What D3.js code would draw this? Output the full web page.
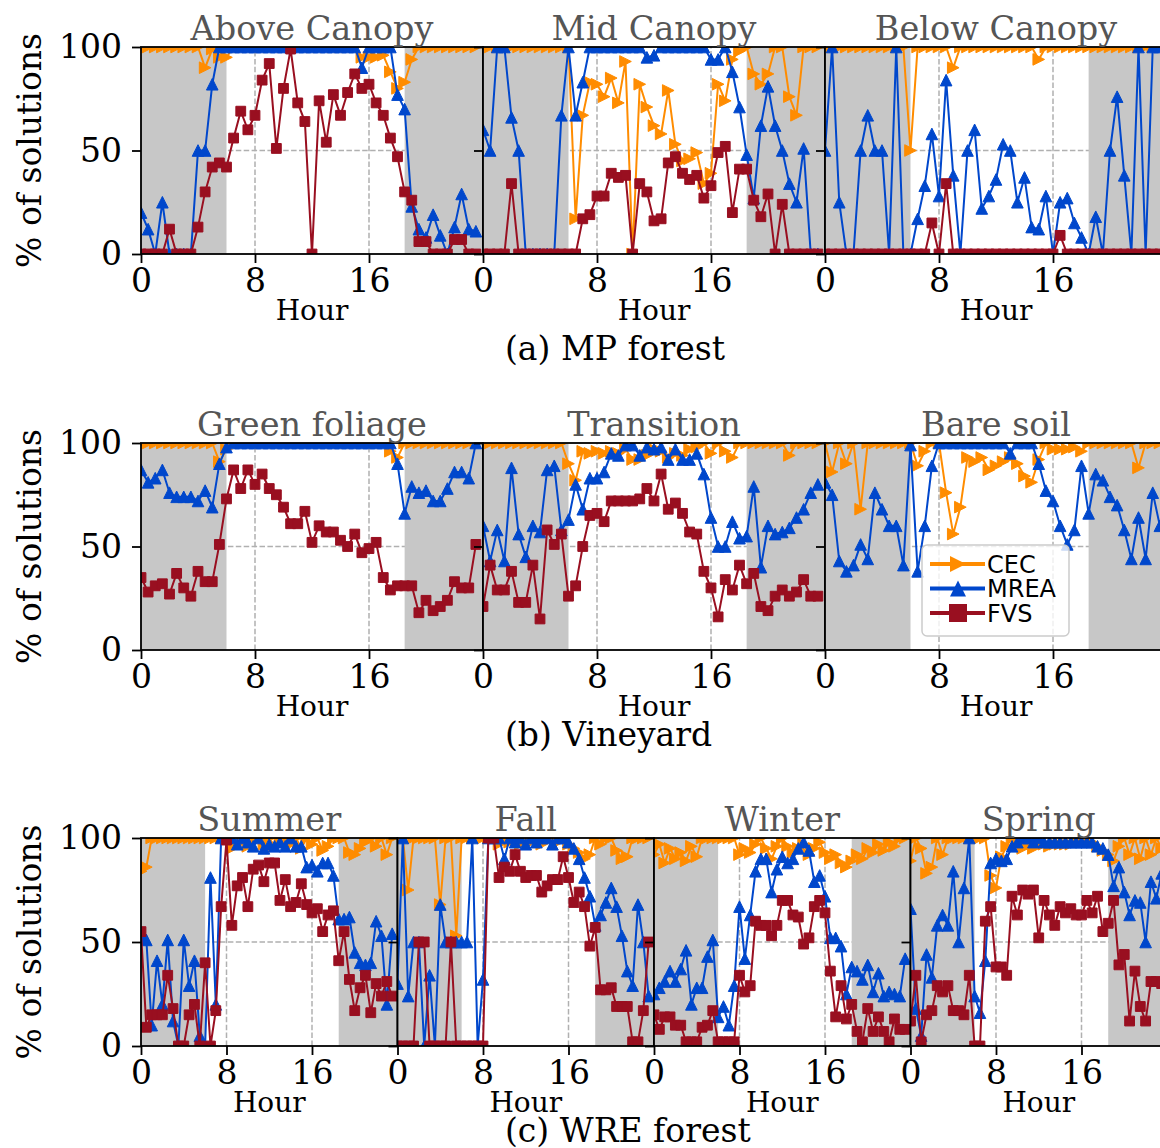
<!DOCTYPE html>
<html>
<head>
<meta charset="utf-8">
<script src="https://cdn.jsdelivr.net/npm/d3@7/dist/d3.min.js"></script>
<style>
body { margin: 0; background: #fff; }
svg { display: block; }
</style>
</head>
<body>
<div id="chart"></div>
<script>
// half-hour samples
var hours = [0,0.5,1,1.5,2,2.5,3,3.5,4,4.5,5,5.5,6,6.5,7,7.5,8,8.5,9,9.5,10,10.5,11,11.5,
	12,12.5,13,13.5,14,14.5,15,15.5,16,16.5,17,17.5,18,18.5,19,19.5,20,20.5,21,21.5,22,22.5,23,23.5]
var xTicks = [0,8,16]
var yTicks = [0,50,100]
var nightSpans = [[0,6],[18.5,24]]
var seriesNames = ['CEC','MREA','FVS']
var colors = ['#ff8c00','#0047cc','#990f20']

var rowTitles = [['Above Canopy','Mid Canopy','Below Canopy'],
	['Green foliage','Transition','Bare soil'],
	['Summer','Fall','Winter','Spring']]
var captions = ['(a) MP forest','(b) Vineyard','(c) WRE forest']

// (a) MP forest
var aboveCEC = [100,100,100,100,100,100,100,100, 100,90,99,95,95,100,100,100, 100,100,100,100,100,100,100,100,
	100,100,100,100,100,100,100,95, 95,95,96,88,80,83,94,100, 100,100,100,100,100,100,100,100]
var aboveMREA = [20,12,0,25,0,0,0,0, 50,50,82,100,100,100,100,100, 100,100,100,100,100,100,100,100,
	100,100,100,100,100,100,100,90, 100,100,100,100,77,70,23,12, 8,19,9,0,13,29,12,11]
var aboveFVS = [0,0,0,0,12,0,0,0, 13,30,42,44,42,56,69,60, 67,84,92,51,80,99,73,64,
	0,74,54,77,67,78,87,80, 82,73,67,56,47,30,26,6, 6,0,0,0,7,7,0,0]

var midCEC = [100,100,100,100,100,100,100,100, 100,100,100,100,100,17,67,83, 82,76,85,73,93,0,82,71,
	62,58,79,53,45,46,49,34, 39,82,74,94,98,100,87,82, 87,100,100,76,67,100,100,100]
var midMREA = [60,50,100,100,66,50,0,0, 0,0,0,67,100,67,83,100, 100,100,100,100,100,100,100,95,
	96,100,100,100,100,100,100,100, 94,94,100,88,71,48,27,62, 81,62,50,34,25,51,0,0]
var midFVS = [0,0,0,0,34,0,0,0, 0,0,0,0,0,0,17,19, 28,28,39,37,38,0,34,30,
	16,17,44,47,39,36,38,27, 33,49,52,20,41,41,26,18, 29,0,24,0,0,0,0,0]

var belowCEC = [100,100,100,100,100,100,100,100, 100,100,100,100,50,100,100,100, 100,100,90,100,100,100,100,100,
	100,100,100,100,100,100,94,100, 100,100,100,100,100,100,100,100, 100,100,100,100,100,100,100,100]
var belowMREA = [50,100,25,0,0,50,67,50, 50,0,100,0,0,17,33,58, 28,84,38,0,50,60,22,28,
	36,53,50,25,37,13,12,28, 0,25,27,15,8,0,18,0, 50,76,38,0,100,0,100,100]
var belowFVS = [0,0,0,0,0,0,0,0, 0,0,0,0,0,0,0,15, 0,34,0,0,0,0,0,0,
	0,0,0,0,0,0,0,0, 0,9,0,0,0,0,0,0, 0,0,0,0,0,0,0,0]

// (b) Vineyard
var greenCEC = [100,100,100,100,100,100,100,100, 100,100,100,91,97,100,100,100, 100,100,100,100,100,100,100,100,
	100,100,100,100,100,100,100,100, 100,100,100,96,93,100,100,100, 100,100,100,100,100,100,100,100]
var greenMREA = [87,81,83,87,76,74,74,74, 72,77,69,90,98,100,100,100, 100,100,100,100,100,100,100,100,
	100,100,100,100,100,100,100,100, 100,100,100,100,90,66,79,76, 77,72,72,78,86,86,83,100]
var greenFVS = [35,28,31,32,27,37,30,26, 38,33,33,51,73,87,78,87, 80,85,78,75,69,61,61,67,
	52,60,57,57,53,50,56,47, 49,52,35,29,31,31,31,18, 24,19,21,24,33,30,30,51]

var transCEC = [100,100,100,100,100,100,100,100, 100,100,100,100,90,82,96,95, 96,95,96,95,97,92,92,94,
	97,96,93,95,94,97,98,100, 95,100,96,93,100,100,100,100, 100,100,100,94,100,100,100,100]
var transMREA = [60,43,58,43,88,56,45,60, 57,87,89,58,63,80,68,83, 83,86,95,94,99,99,94,98,
	97,98,92,97,92,92,95,85, 64,50,50,62,54,55,79,40, 60,56,57,59,64,68,76,80]
var transFVS = [21,41,29,29,38,23,23,41, 15,58,51,56,26,31,50,65, 66,62,72,72,72,72,73,78,
	72,85,68,71,66,57,56,38, 30,16,34,29,41,32,37,21, 19,26,29,26,28,34,26,26]

var bareCEC = [100,86,100,90,100,68,100,100, 100,100,100,100,100,89,96,100, 100,76,56,69,93,91,93,87,
	89,91,93,90,84,81,92,100, 97,97,97,98,96,100,100,100, 100,100,100,100,88,100,100,100]
var bareMREA = [81,75,43,38,41,51,44,76, 68,60,60,41,99,38,60,89, 100,100,100,100,100,100,100,100,
	100,100,95,100,100,100,90,77, 72,60,51,58,89,66,85,82, 74,70,58,44,64,44,76,60]
var bareFVS = []

// (c) WRE forest
var summerCEC = [84,86,100,100,100,100,100,100, 100,100,100,100,100,100,100,100, 100,95,97,100,96,98,100,97,
	100,96,98,100,97,100,95,100, 97,100,94,96,100,100,100,93, 92,95,98,100,96,100,92,100]
var summerMREA = [53,51,10,41,20,51,12,0, 51,29,41,5,0,81,20,100, 100,100,97,100,98,96,100,95,
	97,96,98,96,100,96,96,86, 87,84,88,88,82,61,61,62, 45,40,39,40,60,53,20,54]
var summerFVS = [55,9,15,15,15,34,18,0, 0,15,20,0,40,0,17,67, 99,58,77,81,67,85,87,79,
	88,88,70,80,67,69,78,68, 64,66,55,63,65,41,55,32, 17,28,34,16,30,24,31,24]

var fallCEC = [100,100,75,100,100,100,100,100, 68,100,100,53,100,100,100,100, 100,100,100,97,100,98,100,97,
	100,98,100,97,100,100,98,100, 97,95,93,90,92,100,97,100, 100,94,90,91,100,100,100,100]
var fallMREA = [30,100,24,50,50,0,34,0, 68,50,50,50,50,50,100,0, 32,100,100,100,90,100,98,100,
	97,100,98,100,100,97,100,100, 98,95,90,81,72,58,63,69, 76,67,53,36,29,68,50,24]
var fallFVS = [0,0,0,0,50,50,0,0, 0,0,50,0,0,0,0,0, 0,100,100,81,86,84,92,84,
	81,82,82,74,77,80,80,91, 81,69,74,67,48,57,27,27, 28,19,19,19,2,2,17,50]

var winterCEC = [92,97,88,95,90,93,89,96, 91,100,100,100,100,100,100,100, 92,95,93,97,100,95,90,96,
	100,96,93,95,97,92,95,98, 93,90,92,88,86,89,92,90, 95,93,97,94,98,96,100,100]
var winterMREA = [25,28,31,36,31,37,46,20, 28,28,43,51,14,19,10,29, 67,42,63,84,90,90,74,85,
	91,88,90,95,98,94,79,82, 72,52,52,48,25,38,36,32, 39,26,35,24,26,25,24,42]
var winterFVS = [15,8,14,14,10,10,2,2, 2,9,10,17,2,2,2,2, 34,26,29,60,58,58,53,58,
	70,70,63,62,49,52,67,70, 64,36,14,29,13,20,7,2, 18,7,14,7,2,13,8,8]

var springCEC = [89,100,95,83,86,100,92,100, 100,100,100,100,100,100,100,82, 76,91,96,100,97,95,97,95,
	97,97,96,97,97,97,97,98, 98,98,98,96,94,92,89,96, 100,92,100,90,100,92,100,95]
var springMREA = [66,18,5,44,33,58,63,58, 84,50,76,100,24,16,41,88, 90,89,90,96,98,100,100,98,
	100,98,98,98,98,98,98,98, 98,98,98,96,95,92,77,86, 74,63,70,69,50,79,71,83]
var springFVS = [12,34,2,15,17,29,26,29, 17,17,15,34,0,0,60,67, 38,38,34,72,63,75,73,75,
	52,70,63,58,67,64,66,63, 63,70,64,72,55,59,70,39, 44,12,36,19,12,31,31,30]

var rowSeries = [
	[[aboveCEC,aboveMREA,aboveFVS],[midCEC,midMREA,midFVS],[belowCEC,belowMREA,belowFVS]],
	[[greenCEC,greenMREA,greenFVS],[transCEC,transMREA,transFVS],[bareCEC,bareMREA,bareFVS]],
	[[summerCEC,summerMREA,summerFVS],[fallCEC,fallMREA,fallFVS],[winterCEC,winterMREA,winterFVS],[springCEC,springMREA,springFVS]]
]

// layout
var rowLayout = [
	{top:47, height:207, left:141, width:342, caption:360},
	{top:443, height:207, left:141, width:342, caption:746},
	{top:838, height:208, left:141, width:256.5, caption:1142}
]
var legendPanel = [1,2]

var markers = [
	function(s){ return 'M'+s+',0L'+(-s)+','+(-s)+'L'+(-s)+','+s+'Z' },
	function(s){ return 'M0,'+(-s)+'L'+s+','+s+'L'+(-s)+','+s+'Z' },
	function(s){ return 'M'+(-s)+','+(-s)+'h'+(2*s)+'v'+(2*s)+'h'+(-2*s)+'Z' }
]
var markerSize = [5.8,5.8,4.9]
var legendMarkerSize = [8,8,9]

var serif = '"DejaVu Serif", serif'
var svg = d3.select('#chart').append('svg')
	.attr('width',1160)
	.attr('height',1148)
	.style('font-family',serif)
var defs = svg.append('defs')

rowSeries.forEach(function(row, r){
	var L = rowLayout[r]
	var y = d3.scaleLinear().domain([0,100]).range([L.top+L.height, L.top])

	row.forEach(function(series, c){
		var x0 = L.left + c*L.width
		var x = d3.scaleLinear().domain([0,24]).range([x0, x0+L.width])
		var id = 'clip'+r+'_'+c
		defs.append('clipPath').attr('id',id).append('rect')
			.attr('x',x(0)).attr('y',y(100))
			.attr('width',x(24)-x(0)).attr('height',y(0)-y(100))

		var g = svg.append('g')
		var plot = g.append('g').attr('clip-path','url(#'+id+')')

		// grid
		plot.selectAll('line.vg').data([8,16]).enter().append('line')
			.attr('x1',d=>x(d)).attr('x2',d=>x(d))
			.attr('y1',y(0)).attr('y2',y(100))
			.attr('stroke','#b0b0b0').attr('stroke-width',1.5).attr('stroke-dasharray','5.5,2.4')
		plot.append('line')
			.attr('x1',x(0)).attr('x2',x(24))
			.attr('y1',y(50)).attr('y2',y(50))
			.attr('stroke','#b0b0b0').attr('stroke-width',1.5).attr('stroke-dasharray','5.5,2.4')

		// night
		plot.selectAll('rect.night').data(nightSpans).enter().append('rect')
			.attr('x',d=>x(d[0])).attr('width',d=>x(d[1])-x(d[0]))
			.attr('y',y(100)).attr('height',y(0)-y(100))
			.attr('fill','#c7c7c7')

		var line = d3.line().x((d,i)=>x(hours[i])).y(d=>y(d))
		series.forEach(function(vals, k){
			if(!vals.length) return
			plot.append('path').datum(vals)
				.attr('d',line)
				.attr('fill','none')
				.attr('stroke',colors[k])
				.attr('stroke-width',2)
			plot.selectAll('path.m'+k).data(vals).enter().append('path')
				.attr('class','m'+k)
				.attr('transform',(d,i)=>'translate('+x(hours[i])+','+y(d)+')')
				.attr('d',markers[k](markerSize[k]))
				.attr('fill',colors[k])
				.attr('stroke',colors[k])
				.attr('stroke-width',1)
		})

		// axes
		var xa = g.append('g').attr('transform','translate(0,'+y(0)+')')
			.call(d3.axisBottom(x).tickValues(xTicks).tickSize(9).tickPadding(6).tickFormat(d3.format('d')))
		var ya = g.append('g').attr('transform','translate('+x0+',0)')
			.call(d3.axisLeft(y).tickValues(yTicks).tickSize(9).tickPadding(10)
				.tickFormat(c==0 ? d3.format('d') : function(){ return '' }))
		;[xa,ya].forEach(function(a){
			a.select('.domain').remove()
			a.selectAll('line').attr('stroke','#000').attr('stroke-width',1.8)
			a.selectAll('text').attr('fill','#000').style('font-family',serif).style('font-size','33px')
		})

		g.append('rect')
			.attr('x',x(0)).attr('y',y(100))
			.attr('width',x(24)-x(0)).attr('height',y(0)-y(100))
			.attr('fill','none').attr('stroke','#000').attr('stroke-width',1.8)

		g.append('text')
			.attr('x',(x(0)+x(24))/2).attr('y',L.top-7)
			.attr('text-anchor','middle')
			.style('font-size','33.5px').attr('fill','#555')
			.text(rowTitles[r][c])

		g.append('text')
			.attr('x',(x(0)+x(24))/2).attr('y',y(0)+66)
			.attr('text-anchor','middle')
			.style('font-size','28px').attr('fill','#000')
			.text('Hour')

		if(r==legendPanel[0] && c==legendPanel[1]){
			var lg = g.append('g').attr('transform','translate(922,545)')
			lg.append('rect').attr('width',147).attr('height',91).attr('rx',5)
				.attr('fill','#fff').attr('fill-opacity',0.8)
				.attr('stroke','#cccccc').attr('stroke-width',1.5)
			seriesNames.forEach(function(name, k){
				var row = lg.append('g').attr('transform','translate(0,'+(19+k*24.5)+')')
				row.append('line').attr('x1',8).attr('x2',63)
					.attr('stroke',colors[k]).attr('stroke-width',4)
				row.append('path').attr('transform','translate(36,0)')
					.attr('d',markers[k](legendMarkerSize[k]))
					.attr('fill',colors[k])
				row.append('text').attr('x',65).attr('y',0).attr('dy','0.36em')
					.style('font-family','"DejaVu Sans", sans-serif').style('font-size','24px')
					.attr('fill','#000')
					.text(name)
			})
		}
	})

	svg.append('text')
		.attr('transform','translate(41,'+(L.top+L.height/2)+') rotate(-90)')
		.attr('text-anchor','middle')
		.style('font-size','33px').attr('fill','#000')
		.text('% of solutions')

	svg.append('text')
		.attr('x',505).attr('y',L.caption)
		.style('font-size','33px').attr('fill','#000')
		.text(captions[r])
})
</script>
</body>
</html>
